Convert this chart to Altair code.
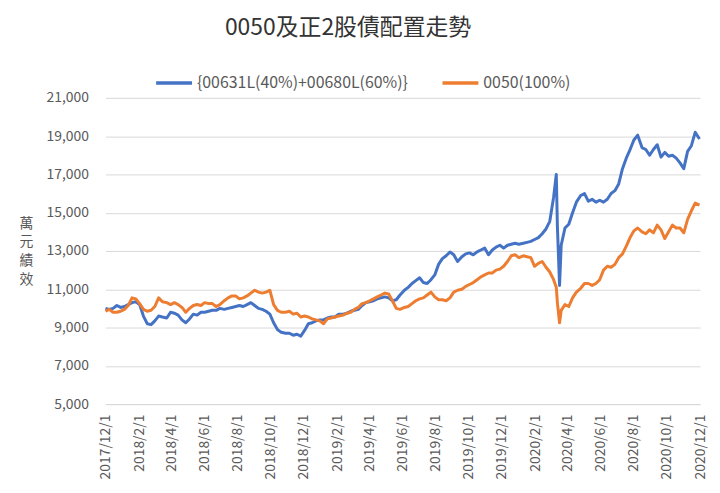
import altair as alt
import pandas as pd

# 156 roughly weekly sample dates spanning the x axis, plus two readings at the March-2020 spike
sample_dates = pd.date_range("2017-12-01", "2020-11-30", periods=156).strftime("%Y-%m-%d").tolist()
spike_dates = ["2020-03-11", "2020-03-17"]

mix_values = [
    10000, 9950, 10000, 10150, 10050,
    10100, 10200, 10300, 10350, 10200,
    9600, 9200, 9150, 9350, 9600,
    9550, 9500, 9800, 9750, 9650,
    9400, 9250, 9450, 9700, 9650,
    9800, 9800, 9850, 9900, 9900,
    10000, 9950, 10000, 10050, 10100,
    10150, 10100, 10200, 10300, 10150,
    10000, 9950, 9850, 9700, 9250,
    8900, 8750, 8700, 8700, 8600,
    8650, 8550, 8850, 9200, 9250,
    9350, 9400, 9400, 9500, 9550,
    9550, 9700, 9700, 9750, 9850,
    9900, 9950, 10150, 10300, 10350,
    10400, 10500, 10550, 10600, 10550,
    10400, 10450, 10700, 10950, 11100,
    11300, 11450, 11600, 11350, 11300,
    11500, 11750, 12300, 12600, 12750,
    12950, 12800, 12450, 12700, 12850,
    12900, 12800, 12950, 13050, 13150,
    12800, 13050, 13200, 13300, 13150,
    13300, 13350, 13400, 13350, 13400,
    13450, 13500, 13600, 13700, 13900,
    14150, 14550, 15800, 14300,
    13300, 14200, 14400, 15000,
    15550, 15900, 16000, 15600, 15700,
    15550, 15650, 15550, 15700, 16000,
    16150, 16500, 17300, 17850, 18300,
    18800, 19050, 18400, 18300, 18000,
    18300, 18550, 17900, 18150, 17950,
    18000, 17850, 17600, 17300, 18200,
    18500, 19200, 18850,
]
mix_spike = [17000, 11200]

etf0050_values = [
    9850, 9950, 9800, 9800, 9850,
    9950, 10150, 10550, 10500, 10250,
    9950, 9850, 9900, 10100, 10550,
    10350, 10300, 10200, 10300, 10200,
    10050, 9800, 10000, 10150, 10200,
    10150, 10300, 10250, 10250, 10100,
    10200, 10400, 10550, 10650, 10650,
    10500, 10550, 10650, 10800, 10950,
    10850, 10800, 10850, 10950, 10200,
    9900, 9800, 9800, 9850, 9700,
    9750, 9550, 9600, 9550, 9450,
    9400, 9350, 9200, 9450, 9500,
    9550, 9600, 9650, 9750, 9800,
    9950, 10050, 10250, 10300, 10400,
    10500, 10600, 10700, 10800, 10750,
    10400, 10000, 9950, 10050, 10100,
    10250, 10400, 10500, 10550, 10700,
    10850, 10600, 10450, 10450, 10400,
    10550, 10850, 10950, 11000, 11150,
    11250, 11350, 11500, 11650, 11750,
    11850, 11850, 12000, 12050, 12200,
    12450, 12750, 12800, 12650, 12750,
    12700, 12650, 12200, 12350, 12450,
    12150, 11900, 11500, 10300,
    9900, 10200, 10100, 10550,
    10850, 11050, 11300, 11300, 11200,
    11300, 11500, 12000, 12200, 12150,
    12300, 12650, 12850, 13250, 13700,
    14050, 14200, 14000, 13900, 14100,
    13950, 14350, 14100, 13650, 14000,
    14350, 14200, 14200, 13950, 14650,
    15100, 15500, 15400,
]
etf0050_spike = [11100, 9250]

series_names = ["{00631L(40%)+00680L(60%)}", "0050(100%)"]
series_colors = ["#4472C4", "#ED7D31"]

y_ticks = [5000, 7000, 9000, 11000, 13000, 15000, 17000, 19000, 21000]
x_tick_months = [
    (2017, 12), (2018, 2), (2018, 4), (2018, 6), (2018, 8), (2018, 10),
    (2018, 12), (2019, 2), (2019, 4), (2019, 6), (2019, 8), (2019, 10),
    (2019, 12), (2020, 2), (2020, 4), (2020, 6), (2020, 8), (2020, 10),
    (2020, 12),
]

df = pd.concat([
    pd.DataFrame({"date": sample_dates + spike_dates, "value": mix_values + mix_spike,
                  "series": series_names[0], "order": 0}),
    pd.DataFrame({"date": sample_dates + spike_dates, "value": etf0050_values + etf0050_spike,
                  "series": series_names[1], "order": 1}),
]).sort_values(["order", "date"]).reset_index(drop=True)

FONT = "Noto Sans CJK TC"
GREY = "#595959"

x_values = [alt.DateTime(year=y, month=m, date=1, utc=True) for (y, m) in x_tick_months]

chart = alt.Chart(df).mark_line(strokeWidth=3, strokeJoin="round").encode(
    x=alt.X(
        "date:T",
        sort=None,
        scale=alt.Scale(
            type="utc",
            domain=[alt.DateTime(year=2017, month=12, date=1, utc=True),
                    alt.DateTime(year=2020, month=12, date=1, utc=True)],
        ),
        axis=alt.Axis(
            values=x_values,
            labelExpr="utcFormat(datum.value, '%Y/%-m/%-d')",
            labelAngle=270, labelFontSize=14, labelColor=GREY, labelFont=FONT,
            labelPadding=10, ticks=False, grid=False, domain=True,
            domainColor="#D9D9D9", domainWidth=1, title=None, labelOverlap=False,
            labelFlush=False,
        ),
    ),
    y=alt.Y(
        "value:Q",
        scale=alt.Scale(domain=[5000, 21000], nice=False, zero=False),
        axis=alt.Axis(
            values=y_ticks, labelExpr="format(datum.value, ',')",
            labelFontSize=14, labelColor=GREY,
            labelFont=FONT, labelPadding=17, ticks=False, domain=False,
            grid=True, gridColor="#D9D9D9", gridWidth=1,
            title=["萬", "元", "績", "效"], titleAngle=0, titleFont=FONT,
            titleFontSize=14, titleFontWeight="normal", titleColor=GREY,
            titleLineHeight=19, titleX=-80, titleY=119,
            titleAlign="center", titleBaseline="top",
        ),
    ),
    color=alt.Color(
        "series:N",
        scale=alt.Scale(domain=series_names, range=series_colors),
        legend=alt.Legend(
            title=None, orient="none", direction="horizontal",
            legendX=49, legendY=-35, symbolType="stroke", symbolSize=1300,
            symbolStrokeWidth=3.5, labelFontSize=16, labelFont=FONT,
            labelColor=GREY, labelOffset=3, columnPadding=26, labelLimit=500,
        ),
    ),
    order="order:Q",
).properties(
    width=598,
    height=308,
    title=alt.TitleParams(
        "0050及正2股債配置走勢", font=FONT, fontSize=23, fontWeight="normal",
        color="#333333", anchor="middle", dx=-55, offset=23,
    ),
    autosize=alt.AutoSizeParams(type="none"),
    padding={"left": 98, "top": 89, "right": 12, "bottom": 80},
).configure_view(stroke=None)

chart.save("out.html", embed_options={"renderer": "svg", "actions": False})
